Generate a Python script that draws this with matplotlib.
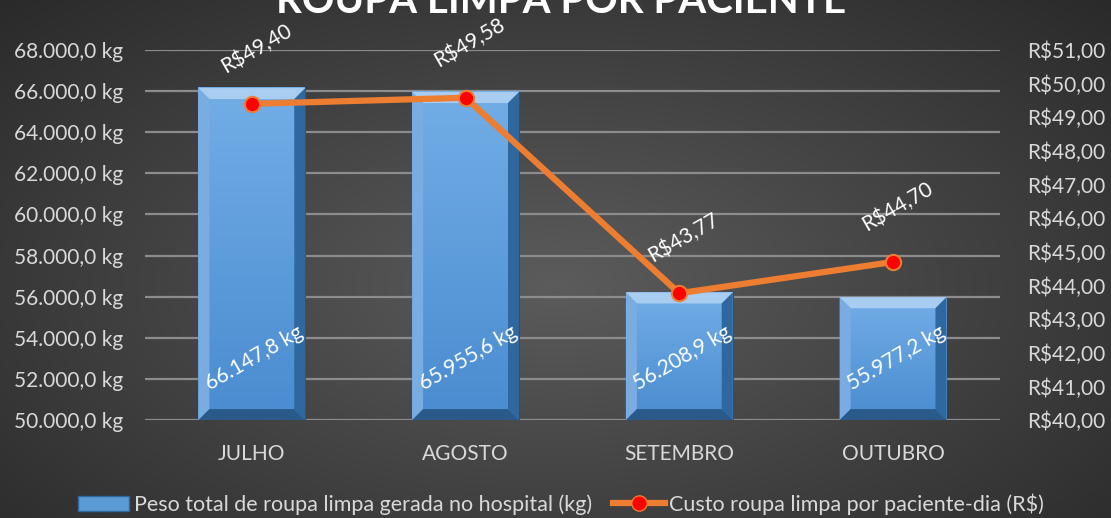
import numpy as np
import matplotlib
matplotlib.use('Agg')
import matplotlib.pyplot as plt
from matplotlib.patches import Polygon
from matplotlib.lines import Line2D
from matplotlib.patches import Patch

# data
meses = ['JULHO', 'AGOSTO', 'SETEMBRO', 'OUTUBRO']
peso_kg = [66147.8, 65955.6, 56208.9, 55977.2]
custo_rs = [49.40, 49.58, 43.77, 44.70]
peso_ticks = np.arange(50000, 68001, 2000)
custo_ticks = np.arange(40, 51.01, 1)

txt_color = '#d9d9d9'
bar_color = '#5b9bd5'
line_color = '#ed7d31'
plt.rcParams['font.family'] = ['Lato', 'DejaVu Sans']

def fmt_br(v, dec):
    s = f'{v:,.{dec}f}'
    return s.replace(',', 'X').replace('.', ',').replace('X', '.')

fig = plt.figure(figsize=(11.11, 5.18), dpi=100)

# background radial gradient
bg = fig.add_axes([0, 0, 1, 1], zorder=-10)
yy, xx = np.mgrid[0:1:300j, 0:1:600j]
r = np.sqrt(((xx - 0.5) / 0.75) ** 2 + ((yy - 0.45) / 0.85) ** 2)
r = np.clip(r, 0, 1)
c0, c1 = np.array([0.36, 0.36, 0.36]), np.array([0.15, 0.15, 0.15])
img = c0[None, None, :] * (1 - r[..., None]) + c1[None, None, :] * r[..., None]
bg.imshow(img, extent=[0, 1, 0, 1], aspect='auto', origin='lower')
bg.axis('off')

ax = fig.add_axes([0.1305, 0.189, 0.7695, 0.7145])
ax.patch.set_alpha(0)
x = np.arange(len(meses))
ax.set_xlim(-0.5, len(meses) - 0.5)
ax.set_ylim(peso_ticks[0], peso_ticks[-1])
ax.set_yticks(peso_ticks)
ax.set_yticklabels([fmt_br(v, 1) + ' kg' for v in peso_ticks])
ax.set_xticks(x)
ax.set_xticklabels(meses)
ax.tick_params(colors=txt_color, labelsize=15, length=0, pad=16)
ax.tick_params(axis='x', pad=17)
for lbl in ax.get_xticklabels() + ax.get_yticklabels():
    lbl.set_color(txt_color)
for s in ax.spines.values():
    s.set_visible(False)
ax.grid(axis='y', color='#8c8c8c', linewidth=1.6, zorder=0)
ax.set_axisbelow(True)

bars = ax.bar(x, peso_kg, width=0.5, color=bar_color, zorder=2,
              edgecolor='#2f4f6f', linewidth=0.8)

# bevel + soft vertical gradient on bars
fig.canvas.draw()
inv = ax.transData.inverted()
bv = 11
grad = np.linspace(0, 1, 100)[:, None]
bar_cmap = matplotlib.colors.LinearSegmentedColormap.from_list('b', ['#4a8cd0', '#72ade6'])
for b in bars:
    x0, y0 = b.get_x(), max(b.get_y(), peso_ticks[0])
    x1, y1 = x0 + b.get_width(), b.get_y() + b.get_height()
    ax.imshow(grad, extent=[x0, x1, y0, y1], aspect='auto', origin='lower',
              cmap=bar_cmap, zorder=2.5)
    (px0, py0) = ax.transData.transform((x0, y0))
    (px1, py1) = ax.transData.transform((x1, y1))
    pieces = [
        ([(px0, py1), (px1, py1), (px1 - bv, py1 - bv), (px0 + bv, py1 - bv)], '#a9cdf0'),
        ([(px0, py0), (px0, py1), (px0 + bv, py1 - bv), (px0 + bv, py0 + bv)], '#79ade2'),
        ([(px1, py0), (px1, py1), (px1 - bv, py1 - bv), (px1 - bv, py0 + bv)], '#2f679f'),
        ([(px0, py0), (px1, py0), (px1 - bv, py0 + bv), (px0 + bv, py0 + bv)], '#2a5a8a'),
    ]
    for pts, col in pieces:
        ax.add_patch(Polygon(inv.transform(pts), closed=True, facecolor=col,
                             edgecolor='none', zorder=3))
ax.set_xlim(-0.5, len(meses) - 0.5)
ax.set_ylim(peso_ticks[0], peso_ticks[-1])

for xi, v in zip(x, peso_kg):
    ax.annotate(fmt_br(v, 1) + ' kg', (xi, peso_ticks[0]), xytext=(2, 45),
                textcoords='offset points', ha='center', va='center',
                rotation=30, color='white', fontsize=15, zorder=6)

ax2 = ax.twinx()
ax2.set_ylim(custo_ticks[0], custo_ticks[-1])
ax2.set_yticks(custo_ticks)
ax2.set_yticklabels(['R$' + fmt_br(v, 2) for v in custo_ticks])
ax2.tick_params(colors=txt_color, labelsize=15, length=0, pad=19.5)
for lbl in ax2.get_yticklabels():
    lbl.set_color(txt_color)
for s in ax2.spines.values():
    s.set_visible(False)
ax2.plot(x, custo_rs, color=line_color, linewidth=4.5, marker='o', markersize=11,
         markerfacecolor='#ff0000', markeredgecolor=line_color, markeredgewidth=1.5,
         zorder=5)
for xi, v in zip(x, custo_rs):
    ax2.annotate('R$' + fmt_br(v, 2), (xi, v), xytext=(3, 40),
                 textcoords='offset points', ha='center', va='center',
                 rotation=30, color='white', fontsize=15)

fig.text(0.505, 0.975, 'ROUPA LIMPA POR PACIENTE', ha='center', va='baseline',
         color='white', fontsize=29, fontweight='bold')

handles = [Patch(facecolor=bar_color, edgecolor='#2f679f'),
           Line2D([], [], color=line_color, linewidth=4.5, marker='o', markersize=11,
                  markerfacecolor='#ff0000', markeredgecolor=line_color)]
fig.legend(handles, ['Peso total de roupa limpa gerada no hospital (kg)',
                     'Custo roupa limpa por paciente-dia (R$)'],
           loc='center', bbox_to_anchor=(0.505, 0.027), ncol=2, frameon=False,
           fontsize=15.5, labelcolor=txt_color, handlelength=2.4, handletextpad=0.2,
           columnspacing=1.0)

fig.savefig('out.png', dpi=100)
